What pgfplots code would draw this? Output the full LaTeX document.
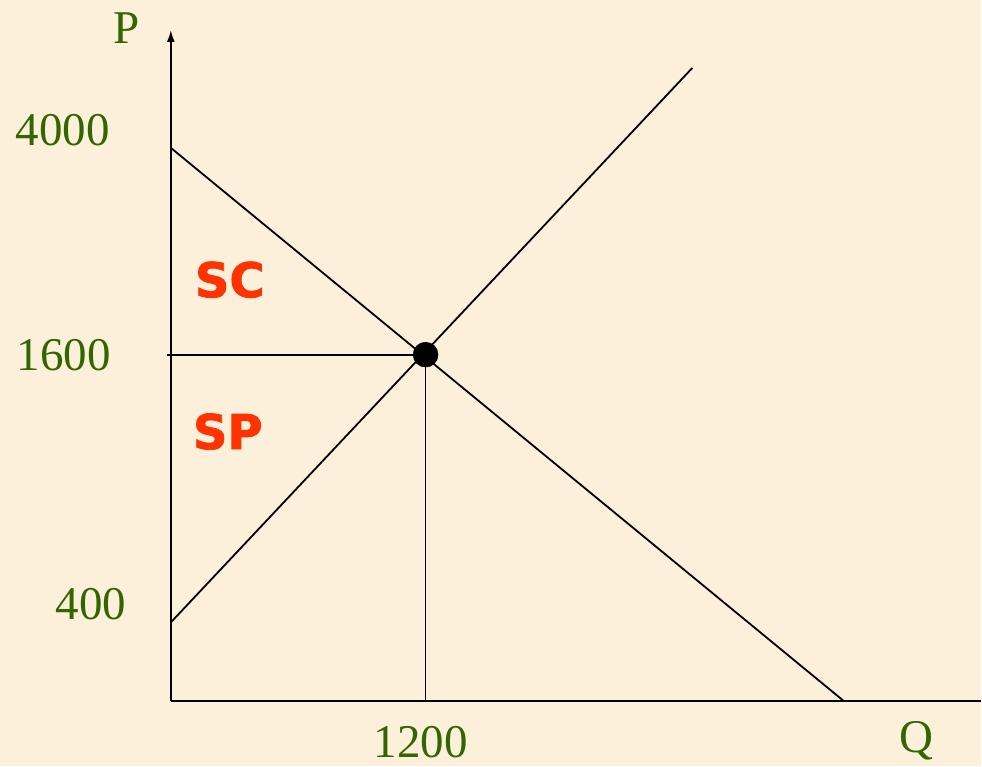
\documentclass[border=0pt]{standalone}
\usepackage{pgfplots}
\pgfplotsset{compat=1.18}
\usepackage{fontspec}
\setmainfont{Liberation Serif}
\newfontfamily\heavy{DejaVu Sans Bold}[FakeBold=1.6]
\usetikzlibrary{arrows.meta}
\definecolor{bg}{RGB}{252,240,218}
\definecolor{lblgreen}{RGB}{51,102,0}
\definecolor{sred}{RGB}{255,51,0}
\begin{document}
\begin{tikzpicture}
\fill[bg] (-171bp,-65bp) rectangle (811bp,702bp);
\begin{axis}[
  at={(0,0)}, anchor=origin,
  x=1bp, y=1bp,
  xmin=0, xmax=811, ymin=0, ymax=672,
  axis y line=left, axis x line*=bottom,
  axis line style={line width=1.9bp, black},
  y axis line style={-{Latex[length=12bp,width=8bp]}},
  xtick=\empty, ytick=\empty,
  clip=false,
]
% demand
\addplot[black, line width=1.8bp] coordinates {(0,554) (674,0)};
% supply
\addplot[black, line width=1.8bp] coordinates {(0,79) (522,634)};
% price line
\addplot[black, line width=1.8bp] coordinates {(-4,347) (255,347)};
% quantity line
\addplot[black, line width=1.8bp] coordinates {(255,347) (255,0)};
% equilibrium
\addplot[only marks, mark=*, mark size=12.5bp, black] coordinates {(255,347)};
\node[text=lblgreen, font=\fontsize{47bp}{50bp}\selectfont] at (axis cs:-44,674) {P};
\node[text=lblgreen, font=\fontsize{47bp}{50bp}\selectfont] at (axis cs:746,-39) {Q};
\node[text=lblgreen, font=\fontsize{47bp}{50bp}\selectfont] at (axis cs:250,-41) {1200};
\node[text=lblgreen, font=\fontsize{47bp}{50bp}\selectfont] at (axis cs:-108,572) {4000};
\node[text=lblgreen, font=\fontsize{47bp}{50bp}\selectfont] at (axis cs:-107,347) {1600};
\node[text=lblgreen, font=\fontsize{47bp}{50bp}\selectfont] at (axis cs:-80,97) {400};
\node[text=sred, font=\heavy\fontsize{48bp}{50bp}\selectfont] at (axis cs:59,422) {SC};
\node[text=sred, font=\heavy\fontsize{48bp}{50bp}\selectfont] at (axis cs:57,270) {SP};
\end{axis}
\end{tikzpicture}
\end{document}
